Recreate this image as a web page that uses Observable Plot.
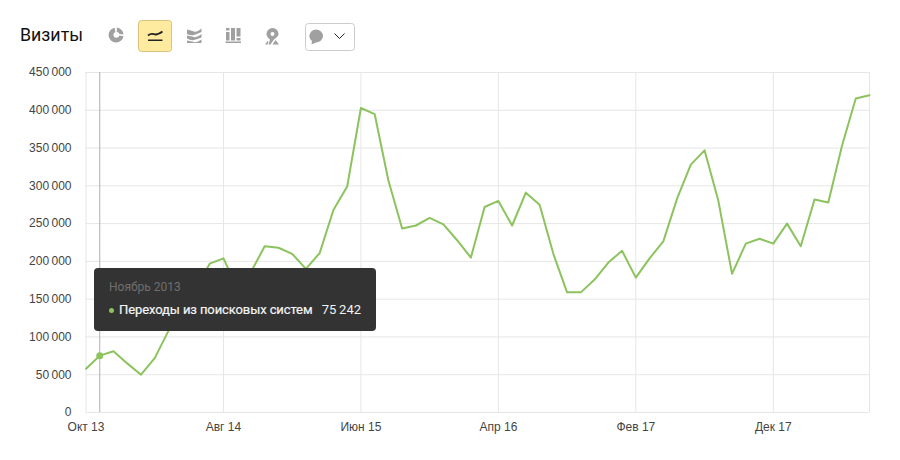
<!DOCTYPE html>
<html lang="ru">
<head>
<meta charset="utf-8">
<script src="https://cdn.jsdelivr.net/npm/d3@7"></script>
<script src="https://cdn.jsdelivr.net/npm/@observablehq/plot@0.6"></script>
<style>
  html, body { margin: 0; padding: 0; background: #fff; }
  body { width: 900px; height: 460px; position: relative; overflow: hidden; font-family: "Liberation Sans", Arial, sans-serif; }
  #head { position: absolute; left: 0; top: 0; width: 900px; height: 60px; }
  #title { position: absolute; left: 20px; top: 24px; font: 17.8px/22px Roboto, sans-serif; color: #111; }
  #head svg { position: absolute; left: 0; top: 0; }
  #chart { position: absolute; left: 0; top: 60px; }
  #chart svg { display: block; }
  #tip { position: absolute; left: 94px; top: 268px; width: 282px; height: 63px; background: #333; border-radius: 4px; font-family: Roboto, sans-serif; }
  #tip .date { position: absolute; left: 15px; top: 11px; font-size: 12px; line-height: 16px; color: #6f6f6f; }
  #tip .dot { position: absolute; left: 15px; top: 40px; width: 5px; height: 5px; border-radius: 50%; background: #8cc35f; }
  #tip .name { position: absolute; left: 25px; top: 34px; font-size: 13px; line-height: 16px; font-weight: 400; color: #f5f5f5; letter-spacing: -0.1px; white-space: nowrap; -webkit-text-stroke: 0.2px #f5f5f5; }
  #tip .val { position: absolute; right: 15px; top: 34px; font-size: 13px; line-height: 16px; color: #f2f2f2; white-space: nowrap; }
</style>
</head>
<body>
<div id="head">
  <div id="title">Визиты</div>
  <svg width="900" height="60" viewBox="0 0 900 60">
    <!-- donut -->
    <path fill-rule="evenodd" d="M114.6 27.7 A7.5 7.5 0 1 0 123.5 36.2 L119.3 35.4 A3 3 0 1 1 115.4 32 Z" fill="#a0a0a0"/>
    <path d="M116.8 27.6 A7.5 7.5 0 0 1 123.5 34.4 L119.4 34 A3 3 0 0 0 116.8 32 Z" fill="#a0a0a0"/>
    <!-- active button -->
    <rect x="138.5" y="20.5" width="33" height="31" rx="3" fill="#ffeba0" stroke="#d9c27f"/>
    <path d="M148 35.5 Q151 33 154 34.2 T162.5 31.5" fill="none" stroke="#222" stroke-width="1.8"/>
    <rect x="148" y="39.5" width="14.5" height="1.5" fill="#222"/>
    <!-- stacked -->
    <path d="M187 34 L187 29.5 Q191 30.5 194 31.5 T201.5 28.5 L201.5 32 Q197 34 194 35 T187 34 Z" fill="#a0a0a0"/>
    <path d="M187 38.5 L187 35.5 Q191 36 194 37 T201.5 34 L201.5 37.5 Q197 39 194 40 T187 38.5 Z" fill="#a0a0a0"/>
    <path d="M187 43 L187 40.5 Q191 41.2 194 42 T201.5 39.5 L201.5 43 Z" fill="#a0a0a0"/>
    <!-- bars -->
    <g fill="#a0a0a0">
      <rect x="226" y="32" width="3.5" height="8.5"/><rect x="226" y="28" width="3.5" height="2.5"/>
      <rect x="231" y="28" width="4" height="12.5"/>
      <rect x="236.5" y="28" width="4" height="8.5"/><rect x="236.5" y="38" width="4" height="2.5"/>
      <rect x="225.5" y="41.5" width="15.5" height="1.5"/>
    </g>
    <!-- pin -->
    <path fill-rule="evenodd" d="M272.5 28 A6 6 0 0 1 278.5 34 C278.5 36.5 275.5 38 273.5 40 L270.5 44.5 L268.5 44.5 L270 39.8 C268.5 38 266.5 36.5 266.5 34 A6 6 0 0 1 272.5 28 Z M272.5 32 A2 2 0 1 0 272.5 36 A2 2 0 1 0 272.5 32 Z" fill="#a0a0a0"/>
    <path d="M265 44.5 L267.5 41 L268.5 42 L267.5 44.5 Z M272.5 44.5 L275.5 40 L279 44.5 Z" fill="#a0a0a0"/>
    <!-- dropdown -->
    <rect x="305.5" y="23.5" width="49" height="27" rx="3" fill="#fff" stroke="#ccc"/>
    <path d="M316 29.5 A7 6.5 0 1 1 316 42.5 L311.5 44.5 L312 41 A7 6.5 0 0 1 316 29.5 Z" fill="#a0a0a0"/>
    <path d="M334.5 33.5 L339.5 38.5 L344.5 33.5" fill="none" stroke="#222" stroke-width="1"/>
  </svg>
</div>
<div id="chart"></div>
<div id="tip">
  <div class="date" id="tipDate"></div>
  <div class="dot"></div>
  <div class="name" id="tipName"></div>
  <div class="val" id="tipVal"></div>
</div>
<script>
const months = [
  "Окт 13","Ноя 13","Дек 13",
  "Янв 14","Фев 14","Мар 14","Апр 14","Май 14","Июн 14","Июл 14","Авг 14","Сен 14","Окт 14","Ноя 14","Дек 14",
  "Янв 15","Фев 15","Мар 15","Апр 15","Май 15","Июн 15","Июл 15","Авг 15","Сен 15","Окт 15","Ноя 15","Дек 15",
  "Янв 16","Фев 16","Мар 16","Апр 16","Май 16","Июн 16","Июл 16","Авг 16","Сен 16","Окт 16","Ноя 16","Дек 16",
  "Янв 17","Фев 17","Мар 17","Апр 17","Май 17","Июн 17","Июл 17","Авг 17","Сен 17","Окт 17","Ноя 17","Дек 17",
  "Янв 18","Фев 18","Мар 18","Апр 18","Май 18","Июн 18","Июл 18"
];
const visits = [
  58000,75242,81000,
  65000,50000,72000,108000,130000,165000,197000,204000,165000,186000,220000,218000,
  210000,190000,211000,268000,299000,403000,395000,307000,243500,247500,257500,249000,
  228000,205000,272000,280000,247500,291000,275000,210000,159000,159000,176000,198500,
  214000,178500,204000,226500,283000,328000,347000,280500,183500,223500,230000,223500,
  250000,220000,282000,278000,353000,415500,420000
];
const xTicks = ["Окт 13","Авг 14","Июн 15","Апр 16","Фев 17","Дек 17"];
const yTicks = [0,50000,100000,150000,200000,250000,300000,350000,400000,450000];
const seriesName = "Переходы из поисковых систем";
const hoverMonth = "Ноя 13";
const hoverLabel = "Ноябрь 2013";

const rows = months.map((m, i) => ({month: m, value: visits[i]}));
const hover = rows.filter(d => d.month === hoverMonth);
const fmt = v => v === 0 ? "0" : d3.format(",")(v).replace(/,/g, "\u2009");
const green = "#8cc35f";
const gridC = "#e6e6e6";

const chart = Plot.plot({
  width: 900,
  height: 400,
  marginLeft: 85.5,
  marginRight: 31,
  marginTop: 12,
  marginBottom: 48,
  style: {fontFamily: '"Liberation Sans", Arial, sans-serif', fontSize: "12px", background: "#fff", overflow: "visible"},
  x: {type: "point", domain: months, padding: 0},
  y: {domain: [0, 450000]},
  marks: [
    Plot.ruleY(yTicks, {stroke: gridC, strokeOpacity: 1}),
    Plot.ruleX(xTicks, {stroke: gridC, strokeOpacity: 1}),
    Plot.ruleX([months[months.length - 1]], {stroke: gridC, strokeOpacity: 1}),
    Plot.ruleX(hover, {x: "month", stroke: "#b0b0b0", strokeOpacity: 1}),
    Plot.lineY(rows, {x: "month", y: "value", stroke: green, strokeWidth: 2, curve: "linear"}),
    Plot.dot(hover, {x: "month", y: "value", r: 3.5, fill: green, stroke: "none"}),
    Plot.axisY({ticks: yTicks, tickFormat: fmt, tickSize: 0, tickPadding: 14.5, label: null, color: "#444", fontSize: 12}),
    Plot.axisX({ticks: xTicks, tickSize: 0, tickPadding: 9.5, label: null, color: "#444", fontSize: 12})
  ]
});
document.getElementById("chart").appendChild(chart);
document.getElementById("tipDate").textContent = hoverLabel;
document.getElementById("tipName").textContent = seriesName;
document.getElementById("tipVal").textContent = fmt(hover[0].value);
</script>
</body>
</html>
